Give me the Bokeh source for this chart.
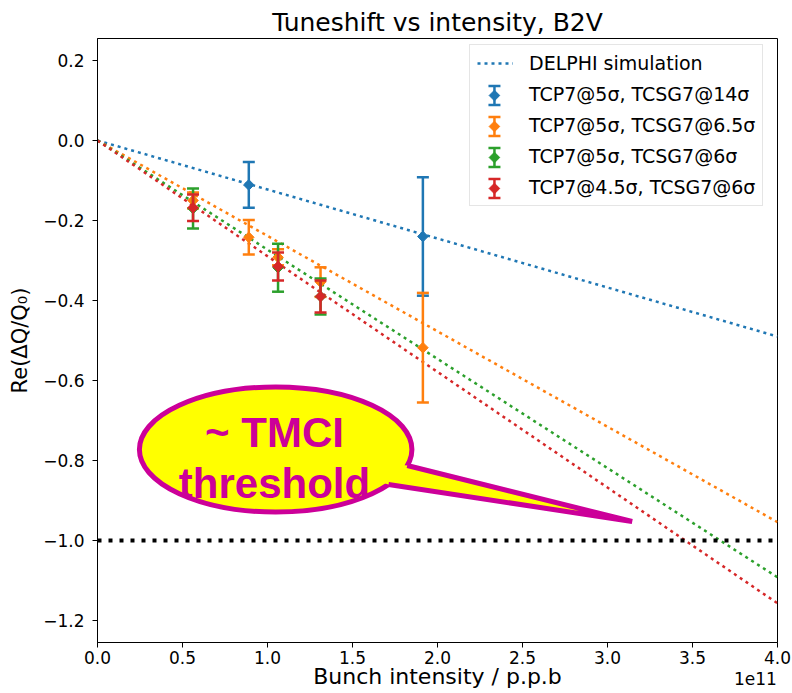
import numpy as np
from bokeh.plotting import figure
from bokeh.models import (Range1d, FixedTicker, CustomJSTickFormatter, Legend,
                          LegendItem, Span, Label, LinearAxis)
from bokeh.embed import file_html
from bokeh.resources import INLINE

# ---------------------------------------------------------------------------
# Data (bunch intensity in units of 1e11 p.p.b)
# ---------------------------------------------------------------------------
x_ticks = [0.0, 0.5, 1.0, 1.5, 2.0, 2.5, 3.0, 3.5, 4.0]
y_ticks = [-1.2, -1.0, -0.8, -0.6, -0.4, -0.2, 0.0, 0.2]
intensity_exponent = "1e11"

# DELPHI simulated tune shift, end points of the linear prediction
delphi_x = [0.0, 4.0]
delphi_tcsg14 = [0.0, -0.490]
delphi_tcsg65 = [0.0, -0.954]
delphi_tcsg6 = [0.0, -1.092]
delphi_tcp45 = [0.0, -1.157]

# Measured tune shifts with their uncertainties
meas_tcsg14_x = [0.890, 1.914]
meas_tcsg14_y = [-0.111, -0.240]
meas_tcsg14_err = [0.057, 0.148]

meas_tcsg65_x = [0.562, 0.890, 1.062, 1.312, 1.914]
meas_tcsg65_y = [-0.150, -0.242, -0.292, -0.354, -0.518]
meas_tcsg65_err = [0.020, 0.043, 0.020, 0.037, 0.137]

meas_tcsg6_x = [0.562, 1.062, 1.312]
meas_tcsg6_y = [-0.170, -0.318, -0.390]
meas_tcsg6_err = [0.050, 0.060, 0.045]

meas_tcp45_x = [0.562, 1.062, 1.312]
meas_tcp45_y = [-0.168, -0.315, -0.390]
meas_tcp45_err = [0.033, 0.035, 0.040]

tmci_threshold = -1.0

series = [
    ("TCP7@5σ, TCSG7@14σ", "#1f77b4", delphi_tcsg14, meas_tcsg14_x, meas_tcsg14_y, meas_tcsg14_err),
    ("TCP7@5σ, TCSG7@6.5σ", "#ff7f0e", delphi_tcsg65, meas_tcsg65_x, meas_tcsg65_y, meas_tcsg65_err),
    ("TCP7@5σ, TCSG7@6σ", "#2ca02c", delphi_tcsg6, meas_tcsg6_x, meas_tcsg6_y, meas_tcsg6_err),
    ("TCP7@4.5σ, TCSG7@6σ", "#d62728", delphi_tcp45, meas_tcp45_x, meas_tcp45_y, meas_tcp45_err),
]

FONT = "DejaVu Sans"
MAGENTA = "#cc0099"
YELLOW = "#ffff00"

# ---------------------------------------------------------------------------
# Figure
# ---------------------------------------------------------------------------
p = figure(frame_width=680, frame_height=604,
           min_border_left=97, min_border_right=15,
           min_border_top=38, min_border_bottom=51,
           x_range=Range1d(0.0, 4.0), y_range=Range1d(-1.255, 0.255),
           output_backend="svg", toolbar_location=None,
           title="Tuneshift vs intensity, B2V")

p.title.text_font = FONT
p.title.text_font_size = "25px"
p.title.text_font_style = "normal"
p.title.align = "center"
p.title.standoff = 4
p.title.text_color = "black"

p.xgrid.visible = False
p.ygrid.visible = False
p.outline_line_color = "black"
p.outline_line_width = 1
p.background_fill_color = "white"
p.border_fill_color = "white"

fmt = CustomJSTickFormatter(code="""
    if (Math.abs(tick) < 1e-9) { return (0).toFixed(1); }
    return tick.toFixed(1).replace('-', '\\u2212');
""")

for ax, ticks in ((p.xaxis[0], x_ticks), (p.yaxis[0], y_ticks)):
    ax.ticker = FixedTicker(ticks=ticks)
    ax.formatter = fmt
    ax.major_tick_in = 0
    ax.major_tick_out = 5
    ax.minor_tick_line_color = None
    ax.major_tick_line_color = "black"
    ax.axis_line_color = "black"
    ax.major_label_text_font = FONT
    ax.major_label_text_font_size = "17px"
    ax.major_label_text_color = "black"
    ax.axis_label_text_font = FONT
    ax.axis_label_text_font_style = "normal"
    ax.axis_label_text_color = "black"

p.xaxis.axis_label = "Bunch intensity / p.p.b"
p.xaxis.axis_label_text_font_size = "22px"
p.xaxis.major_label_standoff = 3
p.xaxis.axis_label_standoff = -3
p.yaxis.axis_label = "Re(ΔQ/Q₀)"
p.yaxis.axis_label_text_font_size = "21px"
p.yaxis.major_label_standoff = 8
p.yaxis.axis_label_standoff = 8

# Exponent of the intensity axis, set at the right end beside the axis title
exp_axis = LinearAxis(ticker=FixedTicker(ticks=[3.87]),
                      formatter=CustomJSTickFormatter(args=dict(txt=intensity_exponent),
                                                      code="return txt;"),
                      axis_line_color=None, major_tick_line_color=None,
                      minor_tick_line_color=None, major_tick_in=0, major_tick_out=0,
                      major_label_standoff=-20, major_label_text_font=FONT,
                      major_label_text_font_size="17px", major_label_text_color="black")
p.add_layout(exp_axis, "below")

# ---------------------------------------------------------------------------
# DELPHI predictions (dotted lines)
# ---------------------------------------------------------------------------
delphi_renderers = []
for label, color, dy, mx, my, me in series:
    r = p.line(delphi_x, dy, line_color=color, line_width=2.5, line_dash="3 4")
    delphi_renderers.append(r)

# ---------------------------------------------------------------------------
# Measurements: error bars, caps and diamond markers
# ---------------------------------------------------------------------------
for label, color, dy, mx, my, me in series:
    mx = np.asarray(mx)
    my = np.asarray(my)
    me = np.asarray(me)
    p.segment(x0=mx, y0=my - me, x1=mx, y1=my + me, line_color=color, line_width=2.5)
    p.scatter(x=np.concatenate([mx, mx]), y=np.concatenate([my - me, my + me]),
              marker="dash", size=12, line_color=color, line_width=2.5)
    p.scatter(x=mx, y=my, marker="square", angle=np.pi / 4, size=7.5,
              fill_color=color, line_color=color, line_width=1)

# TMCI threshold
p.add_layout(Span(location=tmci_threshold, dimension="width", line_color="black",
                  line_width=4, line_dash="4 7"))

# ---------------------------------------------------------------------------
# Callout bubble
# ---------------------------------------------------------------------------
bubble_x, bubble_y = 1.048, -0.7725
bubble_w, bubble_h = 1.603, 0.3125
tail_upper = (1.822, -0.8125)
tail_lower = (1.712, -0.860)
tail_tip = (3.145, -0.9525)
inset = 0.08

p.ellipse(x=[bubble_x], y=[bubble_y], width=[bubble_w], height=[bubble_h],
          fill_color=YELLOW, line_color=MAGENTA, line_width=5)
ux_in = tail_upper[0] + inset * (bubble_x - tail_upper[0])
uy_in = tail_upper[1] + inset * (bubble_y - tail_upper[1])
lx_in = tail_lower[0] + inset * (bubble_x - tail_lower[0])
ly_in = tail_lower[1] + inset * (bubble_y - tail_lower[1])
p.patch(x=[ux_in, tail_upper[0], tail_tip[0], tail_lower[0], lx_in],
        y=[uy_in, tail_upper[1], tail_tip[1], tail_lower[1], ly_in],
        fill_color=YELLOW, line_color=None)
p.line(x=[tail_upper[0], tail_tip[0], tail_lower[0]],
       y=[tail_upper[1], tail_tip[1], tail_lower[1]],
       line_color=MAGENTA, line_width=5, line_join="miter")

for txt, ty in (("~ TMCI", -0.729), ("threshold", -0.8575)):
    p.add_layout(Label(x=1.041, y=ty, text=txt, text_align="center",
                       text_baseline="alphabetic", text_font="Liberation Sans",
                       text_font_style="bold", text_font_size="42px",
                       text_color=MAGENTA))

# ---------------------------------------------------------------------------
# Legend
# ---------------------------------------------------------------------------
items = [LegendItem(label="DELPHI simulation", renderers=[delphi_renderers[0]])]
key_x = 2.335
key_y = [0.1125, 0.035, -0.0425, -0.12]
key_half = 0.02375
for (label, color, *_), ky in zip(series, key_y):
    dummy = p.scatter(x=[], y=[], marker="square", size=1, fill_alpha=0, line_alpha=0)
    items.append(LegendItem(label=label, renderers=[dummy]))
    # error-bar key inside the legend box
    p.segment(x0=[key_x], y0=[ky - key_half], x1=[key_x], y1=[ky + key_half],
              line_color=color, line_width=2.5, level="overlay")
    p.scatter(x=[key_x, key_x], y=[ky - key_half, ky + key_half], marker="dash",
              size=12, line_color=color, line_width=2.5, level="overlay")
    p.scatter(x=[key_x], y=[ky], marker="square", angle=np.pi / 4, size=7.5,
              fill_color=color, line_color=color, line_width=1, level="overlay")

legend = Legend(items=items, location=(372, 436), orientation="vertical",
                label_text_font=FONT, label_text_font_size="19px",
                label_text_color="black", glyph_width=36, glyph_height=22,
                label_height=22, label_standoff=16, spacing=9, padding=7, margin=0,
                border_line_color="#cccccc", border_line_width=1,
                background_fill_color="white", background_fill_alpha=0.0)
p.add_layout(legend)

open("out.html", "w").write(file_html(p, INLINE))
